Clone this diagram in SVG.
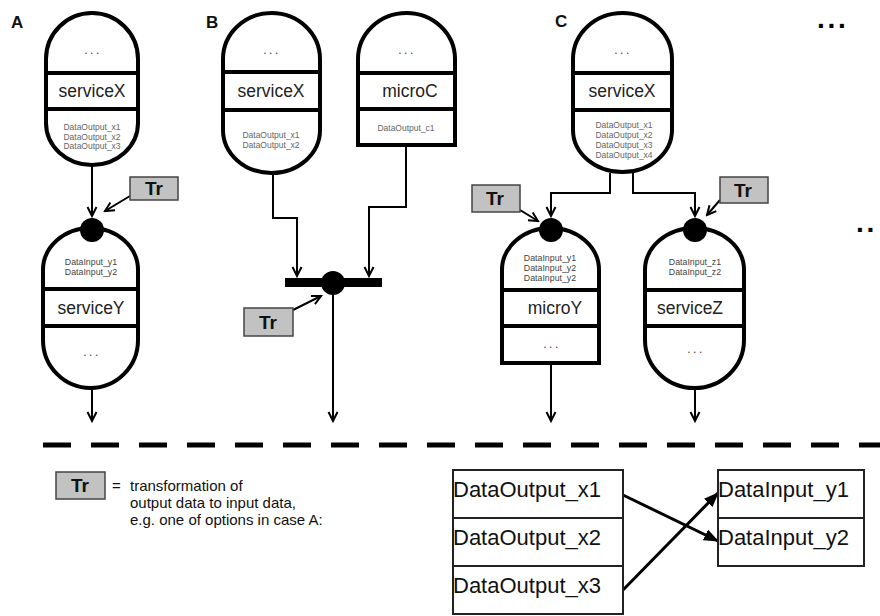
<svg xmlns="http://www.w3.org/2000/svg" width="880" height="616" viewBox="0 0 880 616">
<style>
.sh{fill:#fff;stroke:#000;stroke-width:4}
.band{stroke:#000;stroke-width:4}
.lbl{font-family:"Liberation Sans",Arial,sans-serif;font-size:17.5px;fill:#222;text-anchor:middle}
.sm{font-family:"Liberation Sans",Arial,sans-serif;font-size:8.5px;fill:#666;text-anchor:middle}
.smi{font-family:"Liberation Sans",Arial,sans-serif;font-size:8.8px;fill:#444;text-anchor:middle}
.dots{font-family:"Liberation Sans",Arial,sans-serif;font-size:12px;fill:#444;text-anchor:middle;letter-spacing:2.5px}
.case{font-family:"Liberation Sans",Arial,sans-serif;font-size:17px;font-weight:bold;fill:#111}
.trb{fill:#c2c2c2;stroke:#444;stroke-width:1.5}
.trt{font-family:"Liberation Sans",Arial,sans-serif;font-size:19px;font-weight:bold;fill:#111;text-anchor:middle}
.con{fill:none;stroke:#000;stroke-width:2;marker-end:url(#open)}
.leg{font-family:"Liberation Sans",Arial,sans-serif;font-size:15px;fill:#111}
.tbl{fill:#fff;stroke:#222;stroke-width:2}
.tt{font-family:"Liberation Sans",Arial,sans-serif;font-size:22px;fill:#111}
.big{font-family:"Liberation Sans",Arial,sans-serif;font-size:28px;font-weight:bold;fill:#000;letter-spacing:2.7px}
</style>
<defs>
<marker id="open" markerWidth="12" markerHeight="12" refX="10" refY="5" orient="auto" markerUnits="userSpaceOnUse" viewBox="0 0 12 10">
<path d="M1,0.5 L10,5 L1,9.5" fill="none" stroke="#000" stroke-width="2"/>
</marker>
<marker id="fill" markerWidth="16" markerHeight="12" refX="14" refY="6" orient="auto" markerUnits="userSpaceOnUse" viewBox="0 0 16 12">
<path d="M0,0 L15,6 L0,12 Z" fill="#000"/>
</marker>
</defs>
<rect width="880" height="616" fill="#fff"/>

<text class="case" x="11" y="28">A</text>
<text class="case" x="206" y="28">B</text>
<text class="case" x="555" y="27">C</text>
<text class="big" x="817" y="28">...</text>
<text class="big" x="856" y="232">..</text>

<g id="connectors">
<line class="con" x1="92" y1="166" x2="92" y2="216"/>
<line class="con" x1="130" y1="196" x2="105" y2="211"/>
<line class="con" x1="92" y1="389" x2="92" y2="421"/>
<path class="con" d="M273,174 V218 H297 V276"/>
<path class="con" d="M406,146 V207 H369 V276"/>
<line class="con" x1="333" y1="295" x2="333" y2="421"/>
<line class="con" x1="293" y1="310" x2="321" y2="296"/>
<path class="con" d="M610,173 V193 H551 V216"/>
<path class="con" d="M633,173 V193 H695 V216"/>
<line class="con" x1="520" y1="210" x2="538" y2="221"/>
<line class="con" x1="720" y1="200" x2="707" y2="215"/>
<line class="con" x1="551" y1="364" x2="551" y2="421"/>
<line class="con" x1="695" y1="389" x2="695" y2="421"/>
<line x1="623" y1="495" x2="718" y2="541" stroke="#000" stroke-width="3" marker-end="url(#fill)"/>
<line x1="623" y1="590" x2="718" y2="493" stroke="#000" stroke-width="3" marker-end="url(#fill)"/>
</g>

<g id="A-serviceX">
<path class="sh" d="M46,59 A46,46 0 0 1 138,59 L138,123 A46,42 0 0 1 46,123 Z"/>
<line class="band" x1="46" y1="73" x2="138" y2="73"/>
<line class="band" x1="46" y1="109" x2="138" y2="109"/>
<text class="dots" x="93" y="54">...</text>
<text class="lbl" x="92" y="97">serviceX</text>
<text class="sm" x="92" y="130">DataOutput_x1</text>
<text class="sm" x="92" y="139.5">DataOutput_x2</text>
<text class="sm" x="92" y="149">DataOutput_x3</text>
</g>

<g id="A-serviceY">
<path class="sh" d="M43,270 A47.5,42 0 0 1 138,270 L138,340 A47.5,48 0 0 1 43,340 Z"/>
<line class="band" x1="43" y1="289" x2="138" y2="289"/>
<line class="band" x1="43" y1="326" x2="138" y2="326"/>
<circle cx="92" cy="230" r="12" fill="#000"/>
<text class="smi" x="91" y="265">DataInput_y1</text>
<text class="smi" x="91" y="275">DataInput_y2</text>
<text class="lbl" x="91" y="314">serviceY</text>
<text class="dots" x="92" y="356">...</text>
</g>

<g id="A-Tr">
<rect class="trb" x="130" y="177" width="48" height="23"/>
<text class="trt" x="154" y="195">Tr</text>
</g>

<g id="B-serviceX">
<path class="sh" d="M223,59 A48.5,46 0 0 1 320,59 L320,130 A48.5,43 0 0 1 223,130 Z"/>
<line class="band" x1="223" y1="72" x2="320" y2="72"/>
<line class="band" x1="223" y1="110" x2="320" y2="110"/>
<text class="dots" x="272" y="54">...</text>
<text class="lbl" x="271" y="97">serviceX</text>
<text class="sm" x="271" y="138">DataOutput_x1</text>
<text class="sm" x="271" y="148">DataOutput_x2</text>
</g>

<g id="B-microC">
<path class="sh" d="M358,59 A48.5,46 0 0 1 455,59 L455,145 L358,145 Z"/>
<line class="band" x1="358" y1="73" x2="455" y2="73"/>
<line class="band" x1="358" y1="109" x2="455" y2="109"/>
<text class="dots" x="407" y="54">...</text>
<text class="lbl" x="410" y="97">microC</text>
<text class="sm" x="406" y="131">DataOutput_c1</text>
</g>

<g id="B-join">
<rect x="285" y="278" width="97" height="9" fill="#000"/>
<circle cx="333" cy="283" r="12" fill="#000"/>
</g>

<g id="B-Tr">
<rect class="trb" x="244" y="308" width="49" height="28"/>
<text class="trt" x="268" y="329">Tr</text>
</g>

<g id="C-serviceX">
<path class="sh" d="M573,59 A49.5,46 0 0 1 672,59 L672,130 A49.5,42 0 0 1 573,130 Z"/>
<line class="band" x1="573" y1="73" x2="672" y2="73"/>
<line class="band" x1="573" y1="110" x2="672" y2="110"/>
<text class="dots" x="623" y="54">...</text>
<text class="lbl" x="622" y="97">serviceX</text>
<text class="sm" x="624" y="128">DataOutput_x1</text>
<text class="sm" x="624" y="138">DataOutput_x2</text>
<text class="sm" x="624" y="148">DataOutput_x3</text>
<text class="sm" x="624" y="158">DataOutput_x4</text>
</g>

<g id="C-microY">
<path class="sh" d="M502,270 A48.5,42 0 0 1 599,270 L599,363 L502,363 Z"/>
<line class="band" x1="502" y1="290" x2="599" y2="290"/>
<line class="band" x1="502" y1="326" x2="599" y2="326"/>
<circle cx="551" cy="230" r="12" fill="#000"/>
<text class="smi" x="550" y="261">DataInput_y1</text>
<text class="smi" x="550" y="271">DataInput_y2</text>
<text class="smi" x="550" y="281">DataInput_y2</text>
<text class="lbl" x="555" y="314">microY</text>
<text class="dots" x="552" y="348">...</text>
</g>

<g id="C-serviceZ">
<path class="sh" d="M645,270 A49.5,42 0 0 1 744,270 L744,340 A49.5,48 0 0 1 645,340 Z"/>
<line class="band" x1="645" y1="290" x2="744" y2="290"/>
<line class="band" x1="645" y1="326" x2="744" y2="326"/>
<circle cx="695" cy="230" r="12" fill="#000"/>
<text class="smi" x="695" y="265">DataInput_z1</text>
<text class="smi" x="695" y="275">DataInput_z2</text>
<text class="lbl" x="690" y="314">serviceZ</text>
<text class="dots" x="696" y="353">...</text>
</g>

<g id="C-Tr-left">
<rect class="trb" x="472" y="185" width="48" height="27"/>
<text class="trt" x="495" y="205">Tr</text>
</g>
<g id="C-Tr-right">
<rect class="trb" x="720" y="177" width="48" height="26"/>
<text class="trt" x="743" y="197">Tr</text>
</g>

<line x1="43" y1="445" x2="880" y2="445" stroke="#000" stroke-width="5" stroke-dasharray="28 20"/>

<g id="legend">
<rect class="trb" x="56" y="472" width="49" height="27"/>
<text class="trt" x="80" y="492">Tr</text>
<text class="leg" x="112" y="491">= <tspan x="130">transformation of</tspan></text>
<text class="leg" x="130" y="508">output data to input data,</text>
<text class="leg" x="130" y="525">e.g. one of options in case A:</text>
</g>

<g id="outputs-table">
<rect class="tbl" x="453" y="470" width="170" height="48"/>
<rect class="tbl" x="453" y="518" width="170" height="48"/>
<rect class="tbl" x="453" y="566" width="170" height="48"/>
<text class="tt" x="453" y="497">DataOutput_x1</text>
<text class="tt" x="453" y="545">DataOutput_x2</text>
<text class="tt" x="453" y="593">DataOutput_x3</text>
</g>

<g id="inputs-table">
<rect class="tbl" x="718" y="470" width="146" height="48"/>
<rect class="tbl" x="718" y="518" width="146" height="48"/>
<text class="tt" x="718" y="497">DataInput_y1</text>
<text class="tt" x="718" y="545">DataInput_y2</text>
</g>
</svg>
